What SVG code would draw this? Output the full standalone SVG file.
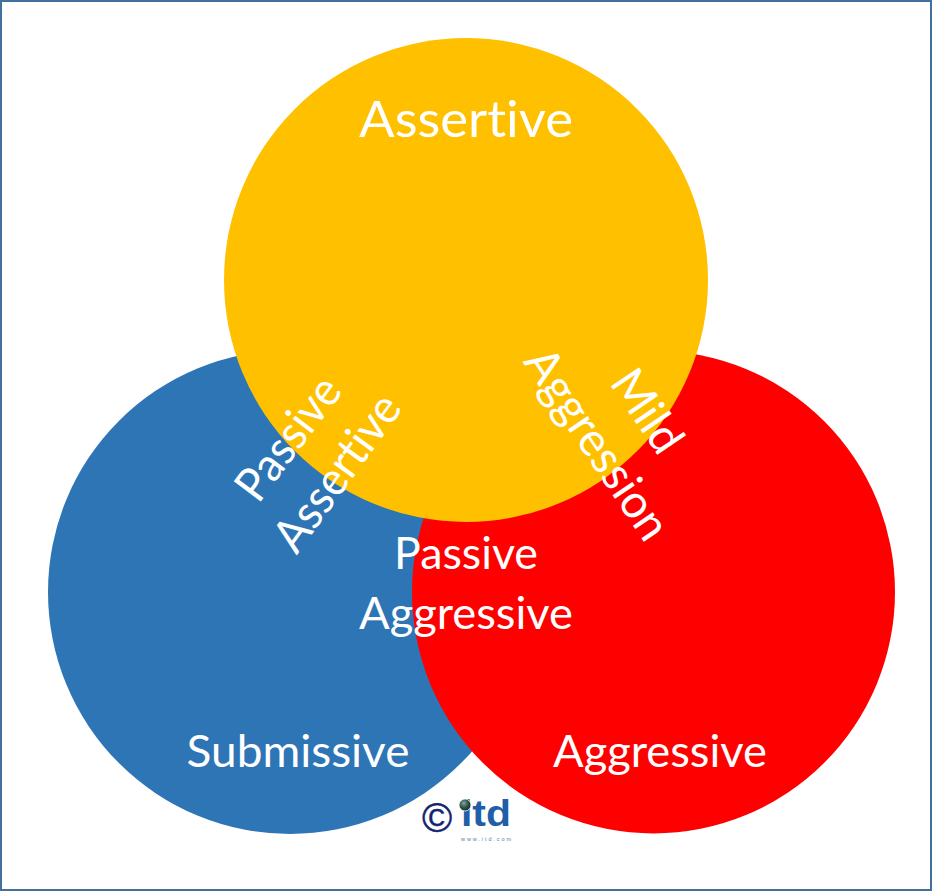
<svg xmlns="http://www.w3.org/2000/svg" width="932" height="891" viewBox="0 0 932 891">
<defs><radialGradient id="globe" cx="0.4" cy="0.35" r="0.7"><stop offset="0" stop-color="#8f9fb8"/><stop offset="0.5" stop-color="#2f5a3a"/><stop offset="1" stop-color="#1a1f4a"/></radialGradient></defs>
<style>
.t{font-family:"Lato","Carlito","Liberation Sans",sans-serif;fill:#fff;text-anchor:middle;font-variant-ligatures:none}
.b{font-size:51px}
.m{font-size:44px}
.r{font-size:47px}
</style>
<rect x="1" y="1" width="930" height="889" fill="#fff" stroke="#41719c" stroke-width="2"/>
<g id="submissive"><circle cx="290" cy="592" r="242" fill="#2e75b6"/></g>
<g id="aggressive"><circle cx="653.5" cy="592" r="241.5" fill="#ff0000"/></g>
<g id="assertive"><circle cx="466" cy="280" r="242" fill="#ffc000"/></g>
<g id="labels">
<text class="t b" x="466" y="137" textLength="214" lengthAdjust="spacingAndGlyphs">Assertive</text>
<text class="t m" x="298" y="767" textLength="223" lengthAdjust="spacingAndGlyphs">Submissive</text>
<text class="t m" x="660" y="767" textLength="214" lengthAdjust="spacingAndGlyphs">Aggressive</text>
<text class="t m" x="466" y="569" textLength="144" lengthAdjust="spacingAndGlyphs">Passive</text>
<text class="t m" x="466" y="629" textLength="214" lengthAdjust="spacingAndGlyphs">Aggressive</text>
<text class="t r" transform="translate(301 448) rotate(-53)" textLength="142" lengthAdjust="spacingAndGlyphs">Passive</text>
<text class="t r" transform="translate(350 482) rotate(-54)" textLength="182" lengthAdjust="spacingAndGlyphs">Assertive</text>
<text class="t r" transform="translate(634 420) rotate(56)" textLength="90" lengthAdjust="spacingAndGlyphs">Mild</text>
<text class="t r" transform="translate(584 453) rotate(56)" textLength="220" lengthAdjust="spacingAndGlyphs">Aggression</text>
</g>
<g id="logo">
<text x="437" y="832" font-family="Liberation Sans,sans-serif" font-size="41" fill="#12246e" stroke="#12246e" stroke-width="0.4" text-anchor="middle">©</text>
<text x="486" y="826" font-family="Liberation Sans,sans-serif" font-weight="700" font-size="37" fill="#1f5fa8" text-anchor="middle" textLength="50" lengthAdjust="spacingAndGlyphs">itd</text>
<circle cx="465" cy="805" r="6" fill="url(#globe)" stroke="#fff" stroke-width="0.8"/>
<text x="486" y="841" font-family="Liberation Sans,sans-serif" font-size="5.5" fill="#5b7bb0" text-anchor="middle" textLength="50">www.itd.com</text>
</g>
</svg>
